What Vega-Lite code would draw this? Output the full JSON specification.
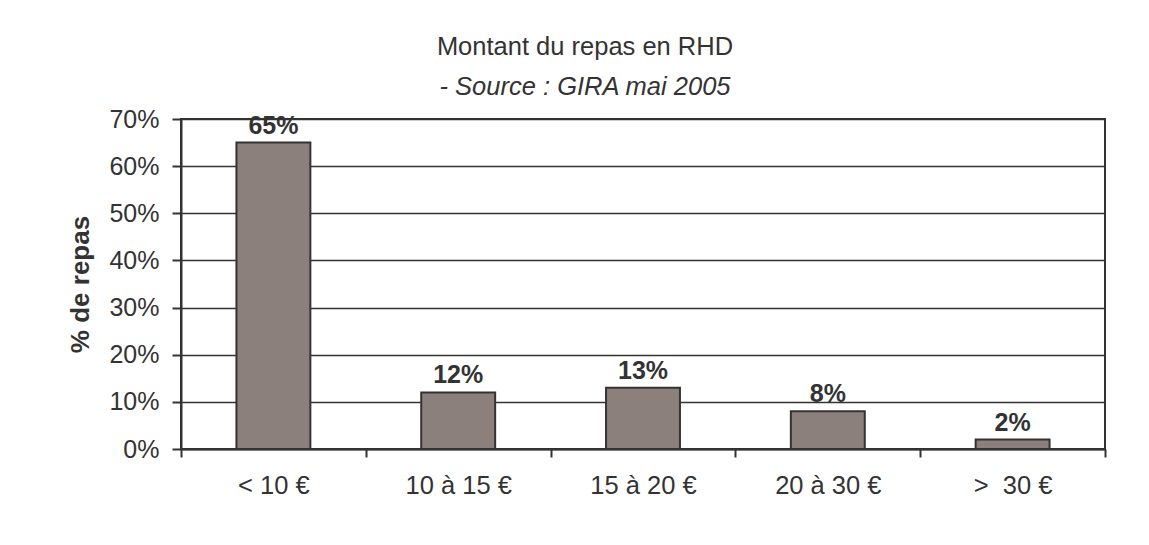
{
  "$schema": "https://vega.github.io/schema/vega-lite/v6.json",
  "autosize": "none",
  "width": 924,
  "height": 330,
  "padding": {"left": 181, "top": 119, "right": 44, "bottom": 96},
  "background": "white",
  "title": {
    "text": "Montant du repas en RHD",
    "subtitle": "- Source : GIRA mai 2005",
    "anchor": "middle",
    "dx": -58,
    "offset": 7,
    "font": "Liberation Sans",
    "fontSize": 25.5,
    "fontWeight": "normal",
    "color": "#333333",
    "subtitleFont": "Liberation Sans",
    "subtitleFontSize": 25.5,
    "subtitleFontStyle": "italic",
    "subtitleColor": "#333333",
    "subtitlePadding": 14
  },
  "data": {
    "values": [
      {"tranche": "< 10 €", "part": 0.65},
      {"tranche": "10 à 15 €", "part": 0.12},
      {"tranche": "15 à 20 €", "part": 0.13},
      {"tranche": "20 à 30 €", "part": 0.08},
      {"tranche": ">\u00a0 30 €", "part": 0.02}
    ]
  },
  "encoding": {
    "x": {
      "field": "tranche",
      "type": "nominal",
      "sort": null,
      "scale": {"paddingInner": 0, "paddingOuter": 0},
      "axis": {
        "title": null,
        "labelAngle": 0,
        "labelFont": "Liberation Sans",
        "labelFontSize": 25.5,
        "labelColor": "#333333",
        "labelPadding": 16,
        "tickBand": "extent",
        "tickSize": 8,
        "tickColor": "#333333",
        "tickWidth": 2,
        "domainColor": "#333333",
        "domainWidth": 2,
        "grid": false
      }
    },
    "y": {
      "field": "part",
      "type": "quantitative",
      "scale": {"domain": [0, 0.7], "nice": false},
      "axis": {
        "title": "% de repas",
        "titleFont": "Liberation Sans",
        "titleFontSize": 26,
        "titleFontWeight": "bold",
        "titleColor": "#333333",
        "titlePadding": 15,
        "format": ".0%",
        "values": [0, 0.1, 0.2, 0.3, 0.4, 0.5, 0.6, 0.7],
        "labelFont": "Liberation Sans",
        "labelFontSize": 25,
        "labelColor": "#333333",
        "labelPadding": 13,
        "tickSize": 9,
        "tickColor": "#333333",
        "tickWidth": 2,
        "domainColor": "#333333",
        "domainWidth": 2,
        "grid": true,
        "gridColor": "#333333",
        "gridWidth": 1.5,
        "gridOpacity": 1
      }
    }
  },
  "layer": [
    {
      "mark": {
        "type": "bar",
        "width": {"band": 0.4},
        "fill": "#8c807c",
        "stroke": "#333333",
        "strokeWidth": 2
      }
    },
    {
      "mark": {
        "type": "text",
        "baseline": "alphabetic",
        "dy": -9,
        "font": "Liberation Sans",
        "fontSize": 25,
        "fontWeight": "bold",
        "color": "#333333"
      },
      "encoding": {
        "text": {"field": "part", "type": "quantitative", "format": ".0%"}
      }
    }
  ],
  "config": {
    "view": {"stroke": "#333333", "strokeWidth": 2}
  }
}
